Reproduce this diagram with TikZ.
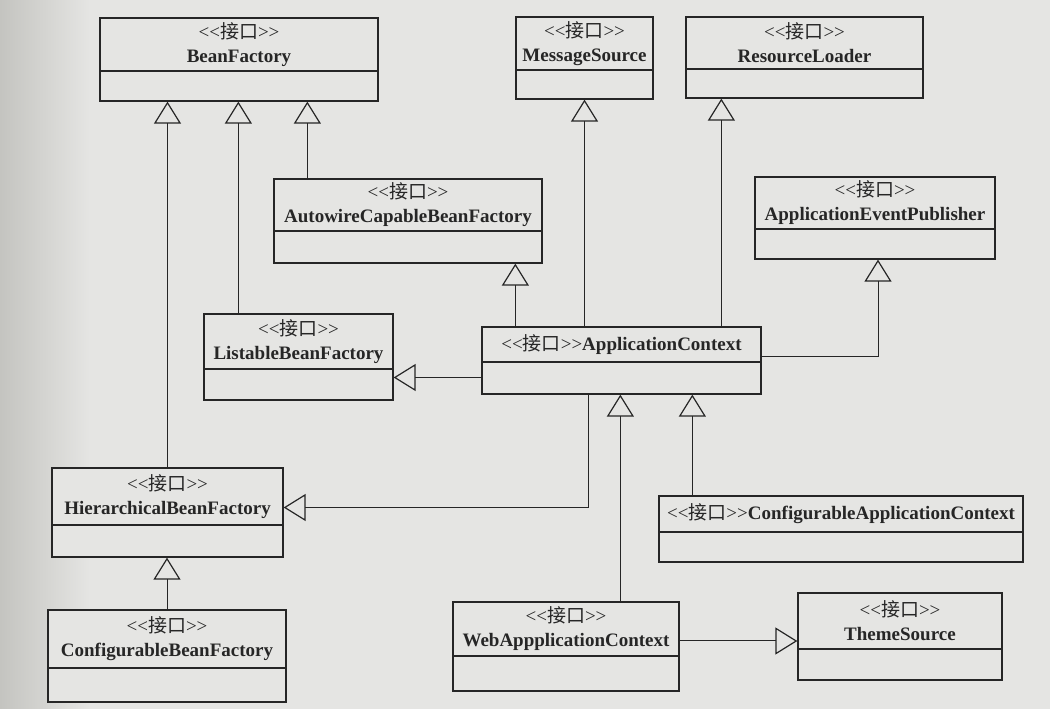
\documentclass[tikz,border=0pt]{standalone}
\usepackage{fontspec}
\setmainfont{Liberation Serif}
\newfontfamily\cjk{Noto Sans CJK SC}
\usetikzlibrary{arrows.meta,fit}

\definecolor{paper}{RGB}{229,229,227}
\definecolor{shadow}{RGB}{196,196,192}
\definecolor{ink}{RGB}{38,38,38}

% stereotype and one interface box: name, x1, y1, x2, y2, y of divider, text
\newcommand{\stereo}{<\kern0pt<{\cjk 接口}>\kern0pt>}
\newcommand{\iface}[7]{%
	\node[box, fit={(#2,#3) (#4,#5)}] (#1) {};
	\draw[box] (#2,#6) -- (#4,#6);
	\node[lbl] (#1t) at ({(#2+#4)/2},{(#3+#6)/2}) {#7};
}

\begin{document}
\begin{tikzpicture}[x=1pt, y=1pt,
	box/.style={draw=ink, line width=1.3pt, fill=paper, inner sep=0pt},
	lbl/.style={align=center, text=ink, inner sep=0pt, font=\fontsize{19}{24}\selectfont},
	inherit/.style={draw=ink, line width=1pt, -{Triangle[open, length=22pt, width=27pt, line width=1.2pt]}}]
	\useasboundingbox (0,0) rectangle (1050,709);
	\fill[paper] (0,0) rectangle (1050,709);
	\shade[left color=shadow, right color=paper] (0,0) rectangle (90,709);

	% interfaces
	\iface{bf}{100}{691}{378}{608}{638}{\stereo\\\textbf{BeanFactory}}
	\iface{ms}{516}{692}{653}{610}{639}{\stereo\\\textbf{MessageSource}}
	\iface{rl}{686}{692}{923}{611}{640}{\stereo\\\textbf{ResourceLoader}}
	\iface{acbf}{274}{530}{542}{446}{478}{\stereo\\\textbf{AutowireCapableBeanFactory}}
	\iface{aep}{755}{532}{995}{450}{480}{\stereo\\\textbf{ApplicationEventPublisher}}
	\iface{lbf}{204}{395}{393}{309}{340}{\stereo\\\textbf{ListableBeanFactory}}
	\iface{ac}{482}{382}{761}{315}{347}{\stereo\textbf{ApplicationContext}}
	\iface{hbf}{52}{241}{283}{152}{184}{\stereo\\\textbf{HierarchicalBeanFactory}}
	\iface{cac}{659}{213}{1023}{147}{177}{\stereo\textbf{ConfigurableApplicationContext}}
	\iface{cbf}{48}{99}{286}{7}{41}{\stereo\\\textbf{ConfigurableBeanFactory}}
	\iface{wac}{453}{107}{679}{18}{53}{\stereo\\\textbf{WebAppplicationContext}}
	\iface{ts}{798}{116}{1002}{29}{60}{\stereo\\\textbf{ThemeSource}}

	% inheritance
	\draw[inherit] (hbf.north) -- (hbf.north |- bf.south);
	\draw[inherit] ([xshift=35pt]lbf.north west) coordinate (lbfup) -- (lbfup |- bf.south);
	\draw[inherit] ([xshift=34pt]acbf.north west) coordinate (acbfup) -- (acbfup |- bf.south);
	\draw[inherit] (cbf.north) -- (cbf.north |- hbf.south);
	\draw[inherit] ([xshift=34pt]ac.north west) coordinate (acup) -- (acup |- acbf.south);
	\draw[inherit] (ms.south |- ac.north) -- (ms.south);
	\draw[inherit] ([xshift=240pt]ac.north west) coordinate (acrl) -- (acrl |- rl.south);
	\draw[inherit] ([yshift=4pt]ac.east) -| ([xshift=3pt]aep.south);
	\draw[inherit] ([yshift=-17pt]ac.west) coordinate (acleft) -- (acleft -| lbf.east);
	\draw[inherit] ([xshift=107pt]ac.south west) |- ([yshift=5pt]hbf.east);
	\draw[inherit] ([xshift=168pt]wac.north west) coordinate (wacup) -- (wacup |- ac.south);
	\draw[inherit] ([xshift=34pt]cac.north west) coordinate (cacup) -- (cacup |- ac.south);
	\draw[inherit] ([yshift=5.5pt]wac.east) coordinate (wacr) -- (wacr -| ts.west);
\end{tikzpicture}
\end{document}
